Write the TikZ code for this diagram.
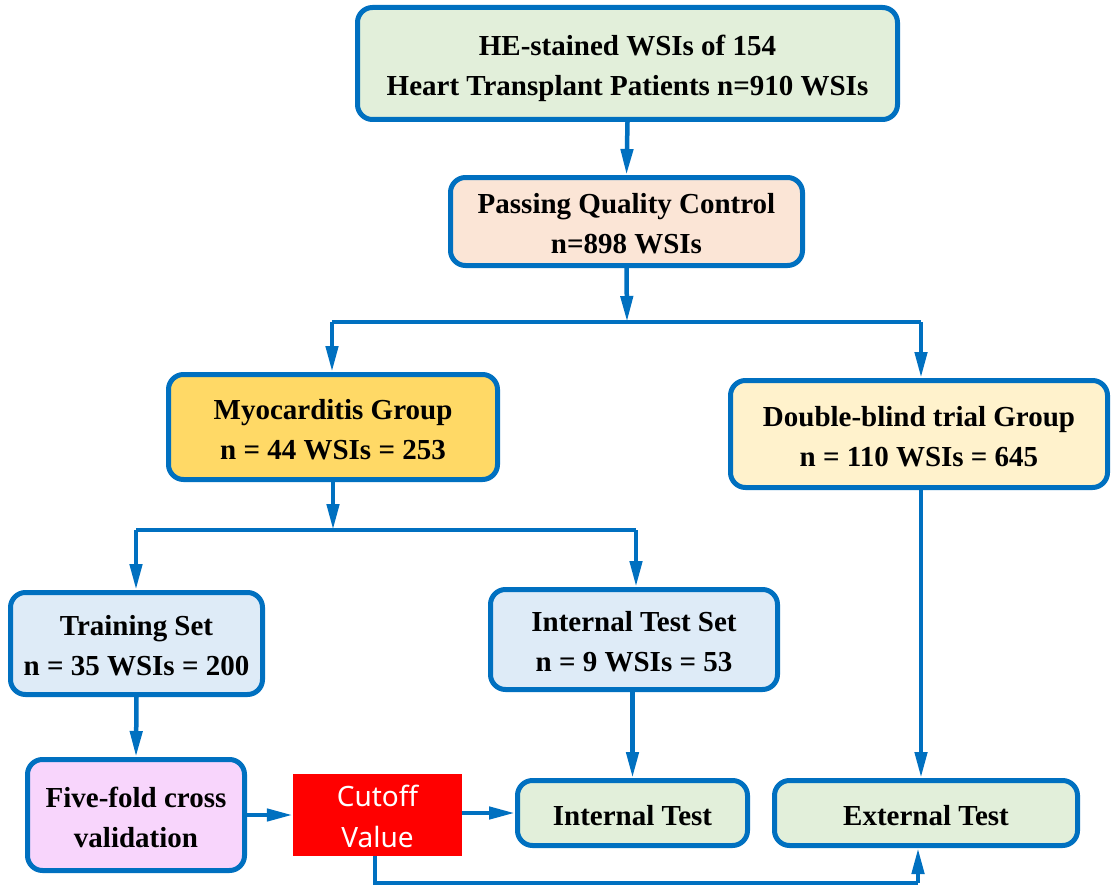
\documentclass[tikz,border=0pt]{standalone}
\usepackage{fontspec}
\setmainfont{Liberation Serif}
\newfontfamily\cutfont{Noto Sans}
\usetikzlibrary{arrows.meta}
\definecolor{lineblue}{HTML}{0070C0}
\definecolor{fgreen}{HTML}{E2EFDA}
\definecolor{fpeach}{HTML}{FBE5D6}
\definecolor{fgold}{HTML}{FFD966}
\definecolor{fcream}{HTML}{FFF2CC}
\definecolor{fblue}{HTML}{DEEBF7}
\definecolor{fpink}{HTML}{F8D5FC}
\definecolor{fred}{HTML}{FF0000}
\newcommand\dntext[1]{\raisebox{-4pt}[\height][\depth]{\begin{tabular}{@{}c@{}}#1\end{tabular}}}
\tikzset{
  box/.style={draw=lineblue, line width=5pt, rounded corners=15pt, inner sep=0pt,
    font=\fontsize{29}{40}\selectfont\bfseries},
  redbox/.style={fill=fred, draw=none, inner sep=0pt, text=white,
    font=\cutfont\fontsize{28}{41}\selectfont},
  conn/.style={draw=lineblue, line width=4.5pt},
  arr/.style={conn, -{Triangle[length=26pt,width=12pt]}},
}
\begin{document}
\begin{tikzpicture}[x=1pt,y=-1pt]
\useasboundingbox (0,0) rectangle (1116,888);
\node[box, fill=fgreen, minimum width=540pt, minimum height=112pt] (top) at (627.5,63.5)
  {\dntext{HE-stained WSIs of 154\\Heart Transplant Patients n=910 WSIs}};
\node[box, fill=fpeach, minimum width=352pt, minimum height=88pt] (qc) at (626.5,221.5)
  {\dntext{Passing Quality Control\\n=898 WSIs}};
\node[box, fill=fgold, minimum width=329pt, minimum height=105pt] (myo) at (333,427)
  {\dntext{Myocarditis Group\\n = 44 WSIs = 253}};
\node[box, fill=fcream, minimum width=377pt, minimum height=107pt] (db) at (919,434)
  {\dntext{Double-blind trial Group\\n = 110 WSIs = 645}};
\node[box, fill=fblue, minimum width=252pt, minimum height=102pt] (train) at (136.5,643.5)
  {\dntext{Training Set\\n = 35 WSIs = 200}};
\node[box, fill=fblue, minimum width=287pt, minimum height=100pt] (its) at (634,639.5)
  {\dntext{Internal Test Set\\n = 9 WSIs = 53}};
\node[box, fill=fpink, minimum width=217pt, minimum height=111pt] (ff) at (136,815)
  {\dntext{Five-fold cross\\validation}};
\node[redbox, minimum width=169pt, minimum height=80pt] (cut) at (377.5,815)
  {\dntext{Cutoff\\Value}};
\node[box, fill=fgreen, minimum width=230pt, minimum height=65pt] (it) at (632.5,813)
  {\dntext{Internal Test}};
\node[box, fill=fgreen, minimum width=303pt, minimum height=65pt] (ext) at (926,813)
  {\dntext{External Test}};
% connectors
\coordinate (b1) at (627,322);
\coordinate (b1l) at (332,322);
\coordinate (b1r) at (921,322);
\coordinate (b2) at (333,530);
\coordinate (b2l) at (136,530);
\coordinate (b2r) at (636,530);
\coordinate (c1) at (375,883);
\coordinate (c2) at (918,883);
\draw[arr] (top.south) -- (qc.north);
\draw[arr] (qc.south) -- (b1);
\draw[conn] (b1l) -- (b1r);
\draw[arr] (b1l) -- (b1l |- myo.north);
\draw[arr] (b1r) -- (b1r |- db.north);
\draw[arr] (myo.south) -- (b2);
\draw[conn] (b2l) -- (b2r);
\draw[arr] (b2l) -- (b2l |- train.north);
\draw[arr] (b2r) -- (b2r |- its.north);
\draw[arr] (train.south) -- (ff.north);
\draw[arr] (its.south -| it.north) -- (it.north);
\draw[arr] (db.south -| b1r) -- (b1r |- ext.north);
\draw[arr] (ff.east) -- (cut.west);
\draw[arr] (cut.east |- it.west) -- (it.west);
\draw[conn] (cut.south -| c1) -- (c1) -- (c2);
\draw[arr] (c2) -- (c2 |- ext.south);
\end{tikzpicture}
\end{document}
